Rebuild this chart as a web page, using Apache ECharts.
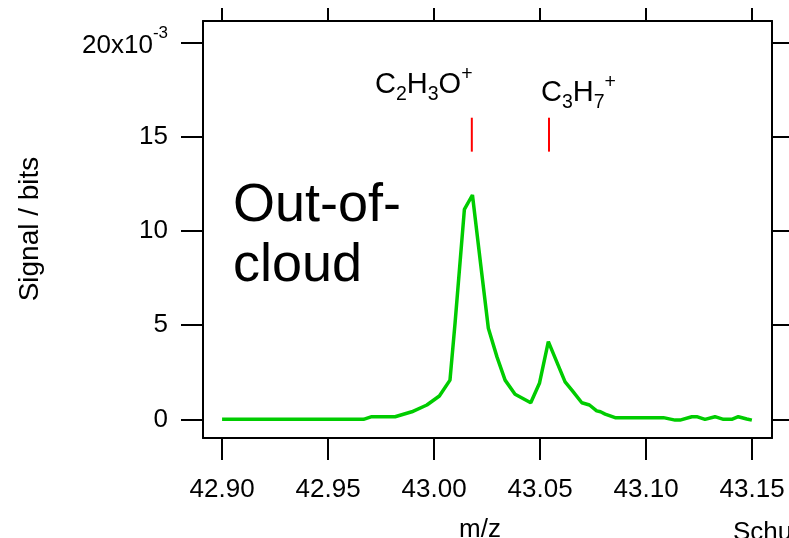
<!DOCTYPE html>
<html>
<head>
<meta charset="utf-8">
<script src="https://cdn.jsdelivr.net/npm/echarts@6/dist/echarts.min.js"></script>
<style>html,body{margin:0;padding:0;background:#fff}#c{width:789px;height:538px}</style>
</head>
<body>
<div id="c"></div>
<script>
// m/z values of the spectrum points
var mz = [42.9000, 42.9667, 42.9706, 42.9816, 42.9895, 42.9966, 43.0025, 43.0075, 43.0099, 43.0143,
          43.0181, 43.0220, 43.0256, 43.0297, 43.0335, 43.0382, 43.0456, 43.0497, 43.0539, 43.0618,
          43.0650, 43.0697, 43.0733, 43.0767, 43.0785, 43.0807, 43.0854, 43.1082, 43.1137, 43.1160,
          43.1216, 43.1239, 43.1278, 43.1325, 43.1365, 43.1404, 43.1435, 43.1475, 43.1499];
// signal in units of 1e-3 bits
var signal = [0.00, 0.00, 0.14, 0.14, 0.40, 0.76, 1.24, 2.08, 5.11, 11.14,
              11.90, 8.20, 4.83, 3.30, 2.08, 1.33, 0.88, 1.91, 4.12, 1.99,
              1.55, 0.88, 0.76, 0.45, 0.40, 0.28, 0.09, 0.09, -0.04, -0.04,
              0.14, 0.14, 0.00, 0.14, 0.00, 0.00, 0.14, 0.02, -0.04];
// exact ion masses for the red markers
var ionMz = [43.0178, 43.0542];
var markerRange = [14.2, 16.0];
var xTicks = [42.90, 42.95, 43.00, 43.05, 43.10, 43.15];
var yTicks = [0, 5, 10, 15, 20];

var chart = echarts.init(document.getElementById('c'), null, {renderer: 'canvas'});
var FONT = 'Liberation Sans';
var lineData = mz.map(function (m, i) { return [m, signal[i]]; });

var series = [{
  type: 'line', data: lineData, showSymbol: false, symbol: 'none',
  lineStyle: {color: '#00cc00', width: 3.5}, itemStyle: {color: '#00cc00'},
  animation: false, z: 3
}];
ionMz.forEach(function (m) {
  series.push({
    type: 'line', data: [[m, markerRange[0]], [m, markerRange[1]]], showSymbol: false, symbol: 'none',
    lineStyle: {color: '#ff0000', width: 2}, animation: false, z: 2
  });
});

var axisLineStyle = {show: true, onZero: false, lineStyle: {color: '#000', width: 2}};
var lbl = {fontFamily: FONT, fontSize: 26, color: '#000'};
var formulaRich = {
  m: {fontFamily: FONT, fontSize: 29, lineHeight: 40, verticalAlign: 'middle'},
  b: {fontFamily: FONT, fontSize: 19.5, lineHeight: 19.5, verticalAlign: 'bottom'},
  p: {fontFamily: FONT, fontSize: 19.5, lineHeight: 19.5, verticalAlign: 'top'}
};

var option = {
  animation: false,
  grid: {left: 203, right: 17, top: 21, bottom: 100, containLabel: false, outerBoundsMode: 'none'},
  xAxis: [{
    type: 'value', position: 'bottom', min: 42.8910, max: 43.1594,
    axisLine: axisLineStyle, splitLine: {show: false},
    axisTick: {show: true, inside: false, length: 22, lineStyle: {color: '#000', width: 2}, customValues: xTicks},
    axisLabel: Object.assign({show: true, margin: 39, customValues: xTicks, showMinLabel: true, showMaxLabel: true,
      formatter: function (v) { return v.toFixed(2); }}, lbl)
  }, {
    type: 'value', position: 'top', min: 42.8910, max: 43.1594,
    axisLine: axisLineStyle, splitLine: {show: false},
    axisTick: {show: true, inside: false, length: 13, lineStyle: {color: '#000', width: 2}, customValues: xTicks},
    axisLabel: {show: false}
  }],
  yAxis: [{
    type: 'value', position: 'left', min: -0.99, max: 21.13,
    axisLine: axisLineStyle, splitLine: {show: false},
    axisTick: {show: true, inside: false, length: 22, lineStyle: {color: '#000', width: 2}, customValues: yTicks},
    axisLabel: Object.assign({show: true, margin: 35, customValues: yTicks, showMinLabel: true, showMaxLabel: true,
      formatter: function (v) { return v === 20 ? '{n|20x10}{s|-3}' : String(v); },
      rich: {
        n: {fontFamily: FONT, fontSize: 26, color: '#000', lineHeight: 34, verticalAlign: 'bottom'},
        s: {fontFamily: FONT, fontSize: 17, color: '#000', lineHeight: 17, verticalAlign: 'top'}
      }}, lbl)
  }, {
    type: 'value', position: 'right', min: -0.99, max: 21.13,
    axisLine: axisLineStyle, splitLine: {show: false},
    axisTick: {show: true, inside: false, length: 22, lineStyle: {color: '#000', width: 2}, customValues: yTicks},
    axisLabel: {show: false}
  }],
  series: series,
  graphic: [
    {type: 'text', x: 30, y: 229, rotation: Math.PI / 2,
      style: {text: 'Signal / bits', fontFamily: FONT, fontSize: 28, fill: '#000', align: 'center', verticalAlign: 'middle'}},
    {type: 'text', x: 480, y: 517,
      style: {text: 'm/z', fontFamily: FONT, fontSize: 26, fill: '#000', align: 'center', verticalAlign: 'top'}},
    {type: 'text', x: 733, y: 520,
      style: {text: 'Schulz', fontFamily: FONT, fontSize: 26, fill: '#000', align: 'left', verticalAlign: 'top'}},
    {type: 'text', x: 233, y: 176,
      style: {text: 'Out-of-\ncloud', fontFamily: FONT, fontSize: 54, lineHeight: 60, fill: '#000', align: 'left', verticalAlign: 'top'}},
    {type: 'text', x: 375, y: 65,
      style: {text: '{m|C}{b|2}{m|H}{b|3}{m|O}{p|+}', fontFamily: FONT, fontSize: 29, fill: '#000', align: 'left', verticalAlign: 'top',
        rich: formulaRich}},
    {type: 'text', x: 541, y: 73,
      style: {text: '{m|C}{b|3}{m|H}{b|7}{p|+}', fontFamily: FONT, fontSize: 29, fill: '#000', align: 'left', verticalAlign: 'top',
        rich: formulaRich}}
  ]
};
chart.setOption(option);
</script>
</body>
</html>
